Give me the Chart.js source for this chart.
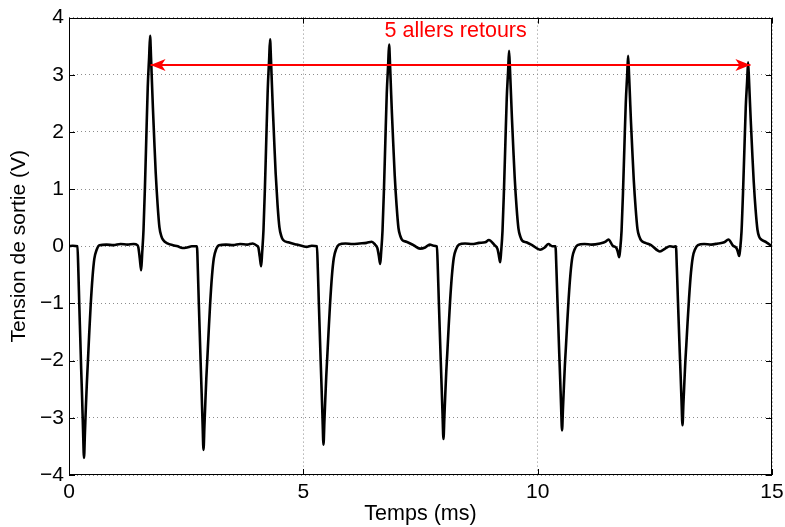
<!DOCTYPE html>
<html>
<head>
<meta charset="utf-8">
<script src="https://cdn.jsdelivr.net/npm/chart.js@4.4.1/dist/chart.umd.min.js"></script>
<style>
  html, body { margin: 0; padding: 0; background: #fff; }
  #wrap { width: 785px; height: 527px; }
</style>
</head>
<body>
<div id="wrap"><canvas id="scope" width="785" height="527"></canvas></div>
<script>
// time (ms) and output voltage (V)
const timeMs = [
  0.00, 0.08, 0.18, 0.20, 0.22, 0.24, 0.26, 0.28, 0.30, 0.32, 0.34, 0.36, 0.38, 0.40, 0.43, 0.46, 0.50, 0.54, 0.59, 0.65,
  0.80, 0.95, 1.10, 1.25, 1.38, 1.46,
  1.48, 1.51, 1.54, 1.56, 1.59, 1.62, 1.65, 1.68, 1.71, 1.73, 1.75, 1.77, 1.79, 1.82, 1.85, 1.89, 1.93, 1.97, 2.01,
  2.10, 2.22, 2.32, 2.42, 2.52, 2.62, 2.73,
  2.75, 2.77, 2.79, 2.81, 2.83, 2.85, 2.87, 2.89, 2.91, 2.93, 2.95, 2.98, 3.01, 3.05, 3.09, 3.14, 3.20,
  3.35, 3.50, 3.65, 3.80, 3.92, 4.01,
  4.04, 4.07, 4.10, 4.12, 4.15, 4.18, 4.21, 4.24, 4.27, 4.29, 4.31, 4.33, 4.35, 4.38, 4.41, 4.45, 4.49, 4.53, 4.57,
  4.68, 4.86, 5.00, 5.07, 5.18, 5.29,
  5.31, 5.33, 5.35, 5.37, 5.39, 5.41, 5.43, 5.45, 5.47, 5.49, 5.51, 5.54, 5.57, 5.61, 5.65, 5.70, 5.76,
  5.90, 6.05, 6.20, 6.35, 6.46, 6.53,
  6.58, 6.61, 6.64, 6.66, 6.69, 6.72, 6.75, 6.78, 6.81, 6.83, 6.85, 6.87, 6.89, 6.92, 6.95, 6.99, 7.03, 7.07, 7.11,
  7.20, 7.35, 7.49, 7.60, 7.70, 7.78, 7.85,
  7.87, 7.89, 7.91, 7.93, 7.95, 7.97, 7.99, 8.01, 8.03, 8.05, 8.07, 8.10, 8.13, 8.17, 8.21, 8.26, 8.32,
  8.45, 8.60, 8.75, 8.88, 8.96, 9.08,
  9.14, 9.17, 9.20, 9.22, 9.25, 9.28, 9.31, 9.34, 9.37, 9.39, 9.41, 9.43, 9.45, 9.48, 9.51, 9.55, 9.59, 9.63, 9.67,
  9.76, 9.88, 10.05, 10.15, 10.23, 10.31, 10.38,
  10.40, 10.42, 10.44, 10.46, 10.48, 10.50, 10.52, 10.54, 10.56, 10.58, 10.60, 10.63, 10.66, 10.70, 10.74, 10.79, 10.85,
  11.00, 11.15, 11.33, 11.45, 11.51, 11.60,
  11.68, 11.71, 11.74, 11.76, 11.79, 11.82, 11.85, 11.88, 11.91, 11.93, 11.95, 11.97, 11.99, 12.02, 12.05, 12.09, 12.13, 12.17, 12.21,
  12.30, 12.42, 12.61, 12.72, 12.82, 12.90, 12.95,
  12.97, 12.99, 13.01, 13.03, 13.05, 13.07, 13.09, 13.11, 13.13, 13.15, 13.17, 13.20, 13.23, 13.27, 13.31, 13.36, 13.42,
  13.55, 13.70, 13.85, 13.98, 14.07, 14.17,
  14.24, 14.27, 14.30, 14.32, 14.35, 14.38, 14.41, 14.44, 14.47, 14.49, 14.51, 14.53, 14.55, 14.58, 14.61, 14.65, 14.69, 14.73, 14.77,
  14.88, 15.00
];
const voltage = [
  0.00, 0.01, 0.00, -0.44, -1.04, -1.59, -2.15, -2.66, -3.22, -3.70, -3.26, -2.81, -2.41, -2.07, -1.55, -1.07, -0.56, -0.22, -0.06, 0.02,
  0.03, 0.02, 0.04, 0.03, 0.04, 0.02,
  -0.02, -0.21, -0.42, -0.15, 0.29, 1.03, 1.91, 2.78, 3.31, 3.68, 3.31, 2.87, 2.43, 1.84, 1.29, 0.74, 0.33, 0.18, 0.11,
  0.05, 0.02, 0.00, -0.03, -0.02, 0.00, 0.00,
  -0.43, -1.00, -1.53, -2.06, -2.56, -3.10, -3.56, -3.13, -2.71, -2.31, -1.99, -1.50, -1.03, -0.53, -0.21, -0.05, 0.02,
  0.03, 0.02, 0.04, 0.03, 0.05, 0.01,
  -0.02, -0.18, -0.35, -0.12, 0.29, 1.01, 1.88, 2.73, 3.26, 3.62, 3.26, 2.82, 2.39, 1.81, 1.27, 0.72, 0.33, 0.18, 0.11,
  0.07, 0.03, 0.00, -0.01, 0.01, 0.00,
  -0.42, -0.97, -1.49, -2.01, -2.50, -3.02, -3.47, -3.05, -2.64, -2.26, -1.94, -1.46, -1.01, -0.52, -0.21, -0.05, 0.03,
  0.05, 0.04, 0.05, 0.06, 0.08, 0.03,
  -0.03, -0.16, -0.31, -0.11, 0.28, 0.99, 1.84, 2.67, 3.18, 3.53, 3.18, 2.75, 2.33, 1.77, 1.24, 0.71, 0.32, 0.18, 0.11,
  0.08, 0.02, -0.04, -0.02, 0.03, 0.01, 0.00,
  -0.40, -0.94, -1.45, -1.95, -2.43, -2.93, -3.37, -2.97, -2.56, -2.19, -1.89, -1.42, -0.98, -0.51, -0.20, -0.05, 0.03,
  0.05, 0.04, 0.06, 0.07, 0.11, 0.02,
  -0.04, -0.15, -0.28, -0.10, 0.27, 0.96, 1.78, 2.58, 3.08, 3.42, 3.08, 2.67, 2.26, 1.71, 1.20, 0.68, 0.31, 0.17, 0.10,
  0.07, 0.02, -0.06, -0.02, 0.04, 0.00, 0.00,
  -0.39, -0.90, -1.38, -1.87, -2.32, -2.80, -3.22, -2.83, -2.45, -2.09, -1.80, -1.35, -0.93, -0.48, -0.19, -0.05, 0.02,
  0.04, 0.03, 0.05, 0.08, 0.12, 0.01,
  -0.03, -0.10, -0.19, -0.06, 0.27, 0.93, 1.73, 2.51, 3.00, 3.33, 3.00, 2.60, 2.20, 1.67, 1.17, 0.67, 0.30, 0.17, 0.10,
  0.06, 0.02, -0.09, -0.04, 0.00, -0.01, 0.00,
  -0.38, -0.88, -1.35, -1.82, -2.25, -2.72, -3.13, -2.75, -2.38, -2.03, -1.75, -1.31, -0.91, -0.47, -0.19, -0.05, 0.02,
  0.04, 0.03, 0.05, 0.07, 0.12, 0.01,
  -0.03, -0.09, -0.17, -0.05, 0.26, 0.90, 1.67, 2.43, 2.90, 3.22, 2.90, 2.51, 2.13, 1.61, 1.13, 0.64, 0.29, 0.16, 0.12,
  0.07, 0.00
];

const xTicks = [0, 5, 10, 15];
const yTicks = [-4, -3, -2, -1, 0, 1, 2, 3, 4];

// the red "5 allers retours" annotation
const arrowTime = [1.74, 14.54];
const arrowVolt = [3.17, 3.17];
const noteText = '5 allers retours';
const notePos = [8.25, 3.76];

const FONT = '"Liberation Sans", Arial, Helvetica, sans-serif';
const RED = '#ff0000';

const minus = v => (v < 0 ? '\u2212' + Math.abs(v) : String(v));

const frame = {
  id: 'frame',
  afterDatasetsDraw(chart) {
    const ctx = chart.ctx;
    const pts = chart.getDatasetMeta(0).data;
    ctx.save();
    ctx.fillStyle = RED;
    [[pts[0], 1], [pts[pts.length - 1], -1]].forEach(([p, dir]) => {
      // arrowhead pointing outwards, notched back
      ctx.beginPath();
      ctx.moveTo(p.x, p.y);
      ctx.lineTo(p.x + dir * 15, p.y - 6);
      ctx.lineTo(p.x + dir * 11, p.y);
      ctx.lineTo(p.x + dir * 15, p.y + 6);
      ctx.closePath();
      ctx.fill();
    });
    const { x, y } = chart.scales;
    ctx.font = '21.5px ' + FONT;
    ctx.textAlign = 'center';
    ctx.textBaseline = 'middle';
    ctx.fillText(noteText, x.getPixelForValue(notePos[0]), y.getPixelForValue(notePos[1]));
    ctx.restore();
  },
  afterDraw(chart) {
    const { ctx, chartArea: a, scales: { x, y } } = chart;
    const len = 6;
    ctx.save();
    ctx.strokeStyle = '#000';
    ctx.lineWidth = 1;
    ctx.beginPath();
    xTicks.forEach(v => {
      const px = Math.round(x.getPixelForValue(v)) + 0.5;
      ctx.moveTo(px, a.bottom); ctx.lineTo(px, a.bottom - len);
      ctx.moveTo(px, a.top); ctx.lineTo(px, a.top + len);
    });
    yTicks.forEach(v => {
      const py = Math.round(y.getPixelForValue(v)) + 0.5;
      ctx.moveTo(a.left, py); ctx.lineTo(a.left + len, py);
      ctx.moveTo(a.right, py); ctx.lineTo(a.right - len, py);
    });
    ctx.stroke();
    ctx.strokeRect(Math.round(a.left) + 0.5, Math.round(a.top) + 0.5,
      Math.round(a.right - a.left) - 1, Math.round(a.bottom - a.top) - 1);
    ctx.restore();
  }
};

new Chart(document.getElementById('scope'), {
  type: 'line',
  data: {
    datasets: [
      {
        data: arrowTime.map((t, i) => ({ x: t, y: arrowVolt[i] })),
        borderColor: RED,
        borderWidth: 2,
        pointRadius: 0,
        order: 1
      },
      {
        data: timeMs.map((t, i) => ({ x: t, y: voltage[i] })),
        borderColor: '#000',
        borderWidth: 2.6,
        pointRadius: 0,
        cubicInterpolationMode: 'monotone',
        order: 2
      }
    ]
  },
  options: {
    responsive: false,
    animation: false,
    devicePixelRatio: 1,
    layout: { padding: { top: 16, right: 13, left: 0, bottom: 0 } },
    plugins: { legend: { display: false }, tooltip: { enabled: false } },
    scales: {
      x: {
        type: 'linear',
        min: 0, max: 15,
        afterBuildTicks: s => { s.ticks = xTicks.map(v => ({ value: v })); },
        afterFit: s => { s.height = 52; s.paddingLeft = 0; s.paddingRight = 0; },
        ticks: { color: '#000', font: { family: FONT, size: 21 }, padding: 5, maxRotation: 0, callback: minus },
        grid: { color: '#8c8c8c', lineWidth: 1, drawTicks: false },
        border: { display: false, dash: [1, 3] },
        title: { display: true, text: 'Temps (ms)', color: '#000', font: { family: FONT, size: 21.5 }, padding: 0 }
      },
      y: {
        min: -4, max: 4,
        afterBuildTicks: s => { s.ticks = yTicks.map(v => ({ value: v })); },
        afterFit: s => { s.width = 69; },
        ticks: { color: '#000', font: { family: FONT, size: 21 }, padding: 5, callback: minus },
        grid: { color: '#8c8c8c', lineWidth: 1, drawTicks: false },
        border: { display: false, dash: [1, 3] },
        title: { display: true, text: 'Tension de sortie (V)', color: '#000', font: { family: FONT, size: 21 }, padding: { top: 7, bottom: 0 } }
      }
    }
  },
  plugins: [frame]
});
</script>
</body>
</html>
